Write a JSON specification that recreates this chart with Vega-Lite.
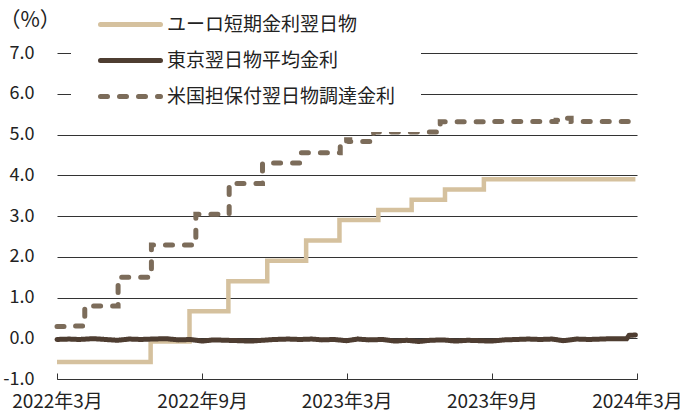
{
  "$schema": "https://vega.github.io/schema/vega-lite/v6.json",
  "width": 580,
  "height": 326,
  "autosize": {"type": "none"},
  "padding": {"left": 57, "right": 54, "top": 53, "bottom": 31},
  "background": "white",
  "config": {
    "font": "Noto Sans CJK JP",
    "view": {"stroke": null},
    "axis": {"labelFont": "Noto Sans CJK JP", "labelColor": "#222", "titleFont": "Noto Sans CJK JP"},
    "legend": {"labelFont": "Noto Sans CJK JP"}
  },
  "datasets": {
    "rates": [
      {"date": "2022-03-31", "series": "ユーロ短期金利翌日物", "value": -0.58},
      {"date": "2022-07-27", "series": "ユーロ短期金利翌日物", "value": -0.08},
      {"date": "2022-09-14", "series": "ユーロ短期金利翌日物", "value": 0.66},
      {"date": "2022-11-02", "series": "ユーロ短期金利翌日物", "value": 1.40},
      {"date": "2022-12-21", "series": "ユーロ短期金利翌日物", "value": 1.90},
      {"date": "2023-02-08", "series": "ユーロ短期金利翌日物", "value": 2.40},
      {"date": "2023-03-22", "series": "ユーロ短期金利翌日物", "value": 2.90},
      {"date": "2023-05-10", "series": "ユーロ短期金利翌日物", "value": 3.15},
      {"date": "2023-06-21", "series": "ユーロ短期金利翌日物", "value": 3.40},
      {"date": "2023-08-02", "series": "ユーロ短期金利翌日物", "value": 3.65},
      {"date": "2023-09-20", "series": "ユーロ短期金利翌日物", "value": 3.90},
      {"date": "2024-03-29", "series": "ユーロ短期金利翌日物", "value": 3.90},

      {"date": "2022-03-31", "series": "米国担保付翌日物調達金利", "value": 0.29},
      {"date": "2022-04-14", "series": "米国担保付翌日物調達金利", "value": 0.30},
      {"date": "2022-05-05", "series": "米国担保付翌日物調達金利", "value": 0.79},
      {"date": "2022-06-16", "series": "米国担保付翌日物調達金利", "value": 1.50},
      {"date": "2022-07-28", "series": "米国担保付翌日物調達金利", "value": 2.29},
      {"date": "2022-09-22", "series": "米国担保付翌日物調達金利", "value": 3.04},
      {"date": "2022-11-03", "series": "米国担保付翌日物調達金利", "value": 3.80},
      {"date": "2022-12-15", "series": "米国担保付翌日物調達金利", "value": 4.30},
      {"date": "2023-02-02", "series": "米国担保付翌日物調達金利", "value": 4.55},
      {"date": "2023-03-23", "series": "米国担保付翌日物調達金利", "value": 4.80},
      {"date": "2023-03-31", "series": "米国担保付翌日物調達金利", "value": 4.87},
      {"date": "2023-04-04", "series": "米国担保付翌日物調達金利", "value": 4.83},
      {"date": "2023-05-04", "series": "米国担保付翌日物調達金利", "value": 5.06},
      {"date": "2023-07-27", "series": "米国担保付翌日物調達金利", "value": 5.31},
      {"date": "2023-10-02", "series": "米国担保付翌日物調達金利", "value": 5.32},
      {"date": "2023-12-20", "series": "米国担保付翌日物調達金利", "value": 5.35},
      {"date": "2024-01-02", "series": "米国担保付翌日物調達金利", "value": 5.40},
      {"date": "2024-01-08", "series": "米国担保付翌日物調達金利", "value": 5.32},
      {"date": "2024-03-29", "series": "米国担保付翌日物調達金利", "value": 5.33},

      {"date": "2022-03-31", "series": "東京翌日物平均金利", "value": -0.03},
      {"date": "2022-04-15", "series": "東京翌日物平均金利", "value": -0.02},
      {"date": "2022-04-28", "series": "東京翌日物平均金利", "value": -0.03},
      {"date": "2022-05-16", "series": "東京翌日物平均金利", "value": -0.01},
      {"date": "2022-05-31", "series": "東京翌日物平均金利", "value": -0.03},
      {"date": "2022-06-15", "series": "東京翌日物平均金利", "value": -0.05},
      {"date": "2022-06-30", "series": "東京翌日物平均金利", "value": -0.02},
      {"date": "2022-07-15", "series": "東京翌日物平均金利", "value": -0.03},
      {"date": "2022-07-29", "series": "東京翌日物平均金利", "value": -0.02},
      {"date": "2022-08-15", "series": "東京翌日物平均金利", "value": -0.01},
      {"date": "2022-08-31", "series": "東京翌日物平均金利", "value": -0.04},
      {"date": "2022-09-15", "series": "東京翌日物平均金利", "value": -0.03},
      {"date": "2022-09-30", "series": "東京翌日物平均金利", "value": -0.07},
      {"date": "2022-10-14", "series": "東京翌日物平均金利", "value": -0.04},
      {"date": "2022-10-31", "series": "東京翌日物平均金利", "value": -0.05},
      {"date": "2022-11-15", "series": "東京翌日物平均金利", "value": -0.06},
      {"date": "2022-11-30", "series": "東京翌日物平均金利", "value": -0.07},
      {"date": "2022-12-15", "series": "東京翌日物平均金利", "value": -0.05},
      {"date": "2022-12-30", "series": "東京翌日物平均金利", "value": -0.03},
      {"date": "2023-01-16", "series": "東京翌日物平均金利", "value": -0.02},
      {"date": "2023-01-31", "series": "東京翌日物平均金利", "value": -0.03},
      {"date": "2023-02-15", "series": "東京翌日物平均金利", "value": -0.02},
      {"date": "2023-02-28", "series": "東京翌日物平均金利", "value": -0.04},
      {"date": "2023-03-15", "series": "東京翌日物平均金利", "value": -0.03},
      {"date": "2023-03-31", "series": "東京翌日物平均金利", "value": -0.06},
      {"date": "2023-04-14", "series": "東京翌日物平均金利", "value": -0.02},
      {"date": "2023-04-28", "series": "東京翌日物平均金利", "value": -0.04},
      {"date": "2023-05-15", "series": "東京翌日物平均金利", "value": -0.03},
      {"date": "2023-05-31", "series": "東京翌日物平均金利", "value": -0.07},
      {"date": "2023-06-15", "series": "東京翌日物平均金利", "value": -0.05},
      {"date": "2023-06-30", "series": "東京翌日物平均金利", "value": -0.08},
      {"date": "2023-07-14", "series": "東京翌日物平均金利", "value": -0.05},
      {"date": "2023-07-31", "series": "東京翌日物平均金利", "value": -0.04},
      {"date": "2023-08-15", "series": "東京翌日物平均金利", "value": -0.07},
      {"date": "2023-08-31", "series": "東京翌日物平均金利", "value": -0.05},
      {"date": "2023-09-15", "series": "東京翌日物平均金利", "value": -0.06},
      {"date": "2023-09-29", "series": "東京翌日物平均金利", "value": -0.07},
      {"date": "2023-10-16", "series": "東京翌日物平均金利", "value": -0.04},
      {"date": "2023-10-31", "series": "東京翌日物平均金利", "value": -0.03},
      {"date": "2023-11-15", "series": "東京翌日物平均金利", "value": -0.02},
      {"date": "2023-11-30", "series": "東京翌日物平均金利", "value": -0.03},
      {"date": "2023-12-15", "series": "東京翌日物平均金利", "value": -0.02},
      {"date": "2023-12-29", "series": "東京翌日物平均金利", "value": -0.06},
      {"date": "2024-01-15", "series": "東京翌日物平均金利", "value": -0.02},
      {"date": "2024-01-31", "series": "東京翌日物平均金利", "value": -0.03},
      {"date": "2024-02-15", "series": "東京翌日物平均金利", "value": -0.02},
      {"date": "2024-02-29", "series": "東京翌日物平均金利", "value": -0.01},
      {"date": "2024-03-15", "series": "東京翌日物平均金利", "value": -0.01},
      {"date": "2024-03-18", "series": "東京翌日物平均金利", "value": -0.01},
      {"date": "2024-03-21", "series": "東京翌日物平均金利", "value": 0.07},
      {"date": "2024-03-29", "series": "東京翌日物平均金利", "value": 0.08}
    ]
  },
  "data": {"name": "rates"},
  "encoding": {
    "x": {
      "field": "date", "type": "temporal",
      "scale": {"domain": [{"year": 2022, "month": 3, "date": 31}, {"year": 2024, "month": 3, "date": 31}]},
      "axis": {
        "title": null,
        "values": [
          {"year": 2022, "month": 3, "date": 31},
          {"year": 2022, "month": 9, "date": 30},
          {"year": 2023, "month": 3, "date": 31},
          {"year": 2023, "month": 9, "date": 30},
          {"year": 2024, "month": 3, "date": 31}
        ],
        "format": "%Y年%-m月",
        "grid": false,
        "domain": true, "domainColor": "#333", "domainWidth": 1,
        "ticks": true, "tickColor": "#333", "tickWidth": 1, "tickSize": -6,
        "labelFontSize": 19, "labelPadding": 19, "labelFlush": false, "labelOverlap": false
      }
    },
    "y": {
      "field": "value", "type": "quantitative",
      "scale": {"domain": [-1, 7], "nice": false, "zero": false},
      "axis": {
        "title": "（%）",
        "titleAngle": 0, "titleAlign": "left", "titleBaseline": "middle",
        "titleX": -58, "titleY": -33, "titleFontSize": 21, "titleFontWeight": "normal", "titleColor": "#222",
        "values": [-1, 0, 1, 2, 3, 4, 5, 6, 7],
        "labelExpr": "datum.value < 0 ? '-' + format(-datum.value, '.1f') : format(datum.value, '.1f')",
        "labelFontSize": 18, "labelPadding": 23,
        "domain": false, "ticks": false,
        "grid": true, "gridColor": "#333", "gridWidth": 1
      }
    },
    "color": {
      "field": "series", "type": "nominal",
      "scale": {
        "domain": ["ユーロ短期金利翌日物", "東京翌日物平均金利", "米国担保付翌日物調達金利"],
        "range": ["#D5C19E", "#4E3D31", "#7C6C5A"]
      },
      "legend": {
        "title": null,
        "orient": "none", "legendX": 14, "legendY": -63, "zindex": 5,
        "fillColor": "white", "padding": 25,
        "labelFontSize": 19, "labelColor": "#222", "labelLimit": 0,
        "symbolType": "M-1,0H11", "symbolSize": 100, "symbolStrokeWidth": 5,
        "rowPadding": 15, "labelOffset": 52,
        "encode": {"symbols": {"update": {"strokeCap": {"value": "round"}}}}
      }
    },
    "strokeDash": {
      "field": "series", "type": "nominal",
      "scale": {
        "domain": ["ユーロ短期金利翌日物", "東京翌日物平均金利", "米国担保付翌日物調達金利"],
        "range": [[1, 0], [1, 0], [7, 12]]
      },
      "legend": null
    }
  },
  "layer": [
    {
      "transform": [{"filter": "datum.series === '米国担保付翌日物調達金利'"}],
      "mark": {"type": "line", "interpolate": "step-after", "strokeWidth": 5, "strokeCap": "round"}
    },
    {
      "transform": [{"filter": "datum.series === 'ユーロ短期金利翌日物'"}],
      "mark": {"type": "line", "interpolate": "step-after", "strokeWidth": 4.5}
    },
    {
      "transform": [{"filter": "datum.series === '東京翌日物平均金利'"}],
      "mark": {"type": "line", "interpolate": "linear", "strokeWidth": 5, "strokeCap": "round"}
    }
  ]
}
